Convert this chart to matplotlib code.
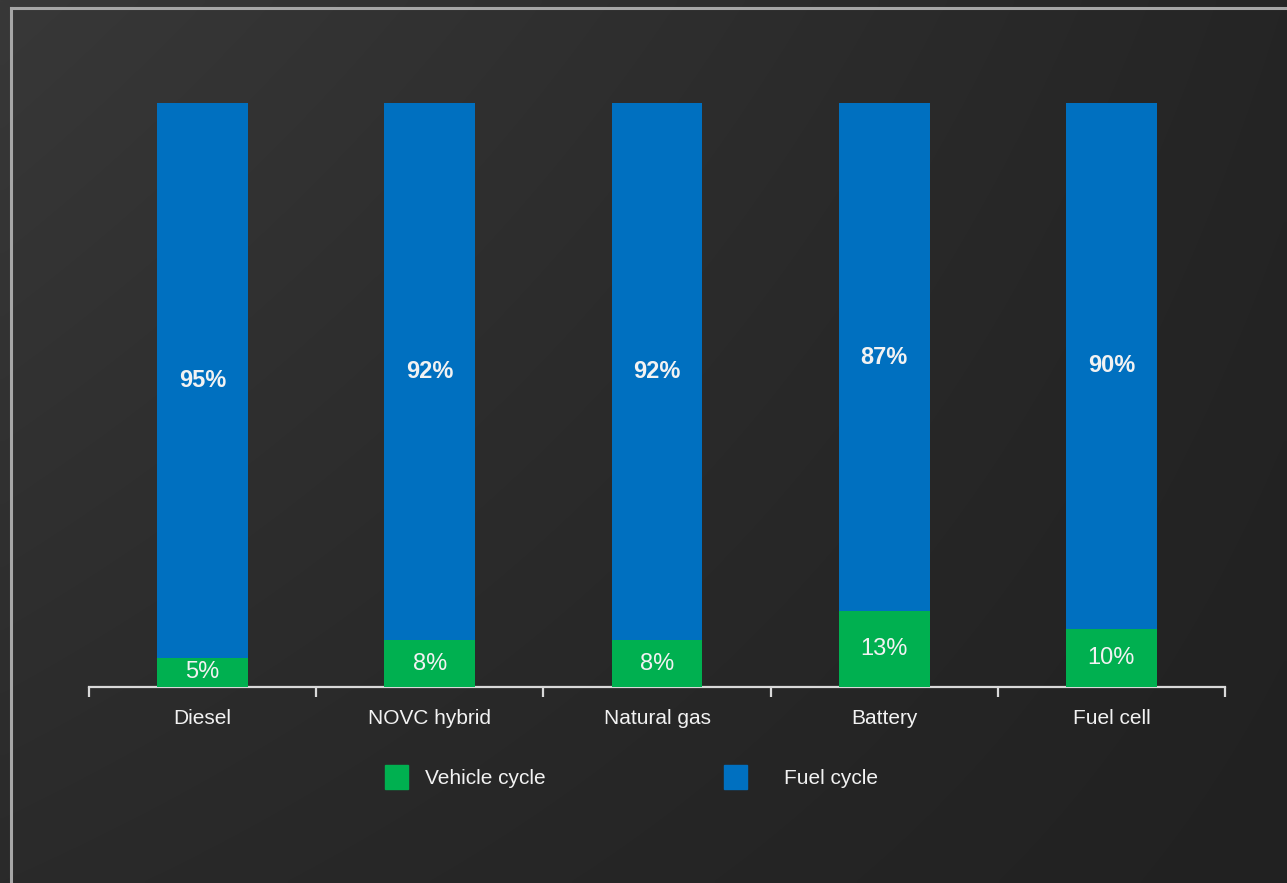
import matplotlib
matplotlib.use("Agg")
import matplotlib.pyplot as plt
import numpy as np
from matplotlib.lines import Line2D
from matplotlib.patches import Rectangle

categories = ["Diesel", "NOVC hybrid", "Natural gas", "Battery", "Fuel cell"]
vehicle_cycle = [5, 8, 8, 13, 10]
fuel_cycle = [95, 92, 92, 87, 90]

GREEN = "#00B050"
BLUE = "#0070C0"
TEXT = "#f2f2f2"

plt.rcParams["font.family"] = ["Liberation Sans", "DejaVu Sans"]

W, H = 1287, 883
fig = plt.figure(figsize=(W / 100, H / 100), dpi=100)

# dark gradient background
bg = fig.add_axes([0, 0, 1, 1], zorder=-10)
xx, yy = np.meshgrid(np.linspace(0, 1, 200), np.linspace(0, 1, 200))
tl, tr, bl, br = 56, 37, 42, 33
grad = (tl * (1 - xx) * (1 - yy) + tr * xx * (1 - yy)
        + bl * (1 - xx) * yy + br * xx * yy) / 255.0
bg.imshow(np.dstack([grad, grad, grad]), aspect="auto", extent=[0, 1, 0, 1],
          interpolation="bilinear")
bg.set_axis_off()

# thin grey frame on the left and top
fig.add_artist(Line2D([11 / W, 11 / W], [0, 1 - 8 / H], color="#a6a6a6", lw=2.2))
fig.add_artist(Line2D([11 / W, 1], [1 - 8 / H, 1 - 8 / H], color="#a6a6a6", lw=2.2))

ax = fig.add_axes([89 / W, (H - 687) / H, 1136 / W, 584 / H])
ax.set_facecolor("none")
x = np.arange(len(categories))
bw = 0.4
ax.bar(x, vehicle_cycle, bw, color=GREEN, zorder=3)
ax.bar(x, fuel_cycle, bw, bottom=vehicle_cycle, color=BLUE, zorder=3)

narrow = ["Liberation Sans Narrow", "Liberation Sans"]
for i in range(len(categories)):
    v, f = vehicle_cycle[i], fuel_cycle[i]
    ax.text(x[i], v / 2, f"{v}%", ha="center", va="center", color=TEXT,
            fontsize=17, family=narrow, zorder=4)
    ax.text(x[i], v + f / 2, f"{f}%", ha="center", va="center", color=TEXT,
            fontsize=17, fontweight="bold", family=narrow, zorder=4)

ax.set_xlim(-0.5, len(categories) - 0.5)
ax.set_ylim(0, 100)
for s in ["top", "right", "left"]:
    ax.spines[s].set_visible(False)
ax.spines["bottom"].set_color("#d9d9d9")
ax.spines["bottom"].set_linewidth(1.6)
ax.set_yticks([])

ax.set_xticks(np.arange(-0.5, len(categories), 1.0))
ax.set_xticklabels([])
ax.tick_params(axis="x", which="major", direction="out", length=7,
               width=1.6, color="#d9d9d9")
ax.set_xticks(x, minor=True)
ax.set_xticklabels(categories, minor=True)
ax.tick_params(axis="x", which="minor", length=0, pad=16, labelsize=15,
               labelcolor=TEXT)

# legend
items = [(385, 425, GREEN, "Vehicle cycle"), (724, 784, BLUE, "Fuel cycle")]
for sx, tx, col, lab in items:
    fig.add_artist(Rectangle((sx / W, (H - 789) / H), 23 / W, 24 / H,
                             color=col, transform=fig.transFigure))
    fig.text(tx / W, (H - 778) / H, lab, ha="left", va="center",
             color=TEXT, fontsize=15)

fig.savefig("out.png", dpi=100)
